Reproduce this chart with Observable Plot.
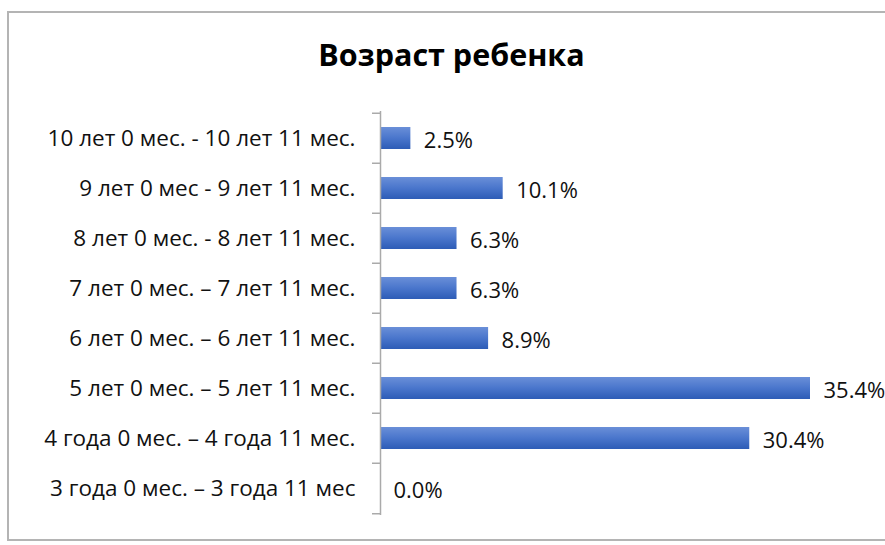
<!DOCTYPE html>
<html>
<head>
<meta charset="utf-8">
<script src="https://cdn.jsdelivr.net/npm/d3@7"></script>
<script src="https://cdn.jsdelivr.net/npm/@observablehq/plot@0.6"></script>
<style>
  html, body { margin: 0; padding: 0; background: #fff; }
  #wrap { position: relative; width: 885px; height: 545px; overflow: hidden; }
  #border { position: absolute; left: 7px; top: 11px; width: 900px; height: 530px; border: 2px solid #b4b4b4; box-sizing: border-box; }
  #chart { position: absolute; left: 0; top: 0; }
</style>
</head>
<body>
<div id="wrap"><div id="border"></div><div id="chart"></div></div>
<script>
const title = "Возраст ребенка";
const categories = [
  "10 лет 0 мес. - 10 лет 11 мес.",
  "9 лет 0 мес - 9 лет 11 мес.",
  "8 лет 0 мес. - 8 лет 11 мес.",
  "7 лет 0 мес. – 7 лет 11 мес.",
  "6 лет 0 мес. – 6 лет 11 мес.",
  "5 лет 0 мес. – 5 лет 11 мес.",
  "4 года 0 мес. – 4 года 11 мес.",
  "3 года 0 мес. – 3 года 11 мес"
];
const values = [2.5, 10.1, 6.3, 6.3, 8.9, 35.4, 30.4, 0.0];

const data = categories.map((c, i) => ({category: c, value: values[i]}));

const W = 885, H = 545, mL = 380, mR = 75, mT = 111, mB = 30;
const step = (H - mT - mB) / categories.length;
const xMax = d3.max(values);
const pxPerUnit = (W - mL - mR) / xMax;
const font = "'Open Sans', Lato, sans-serif";
const titleCenter = 451;

const plot = Plot.plot({
  width: W,
  height: H,
  marginLeft: mL,
  marginRight: mR,
  marginTop: mT,
  marginBottom: mB,
  style: {fontFamily: font, background: "transparent", overflow: "visible"},
  x: {domain: [0, xMax], axis: null},
  y: {domain: categories, paddingInner: 0.564, paddingOuter: 0.282, label: null},
  marks: [
    Plot.barX(data, {x: "value", y: "category", fill: "url(#barGrad)"}),
    Plot.ruleX([0], {stroke: "#aaa", strokeWidth: 1.5}),
    Plot.ruleY(categories, {y: d => d, x1: -8 / pxPerUnit, x2: 0, dy: -step / 2, stroke: "#aaa", strokeWidth: 1.5}),
    Plot.ruleY(categories.slice(-1), {y: d => d, x1: -8 / pxPerUnit, x2: 0, dy: step / 2, stroke: "#aaa", strokeWidth: 1.5}),
    Plot.axisY({tickSize: 0, tickPadding: 25, fontSize: 22.5, fill: "#111", label: null}),
    Plot.text(data, {x: "value", y: "category", text: d => d.value.toFixed(1) + "%", dx: 13, dy: 2, textAnchor: "start", fontSize: 22, fill: "#111"}),
    Plot.text([title], {frameAnchor: "top", dx: titleCenter - (mL + (W - mL - mR) / 2), dy: -67, text: d => d, fontSize: 30.5, fontWeight: "bold", fill: "#000"})
  ]
});

const ns = "http://www.w3.org/2000/svg";
const defs = document.createElementNS(ns, "defs");
defs.innerHTML = `<linearGradient id="barGrad" x1="0" y1="0" x2="0" y2="1">
  <stop offset="0" stop-color="#6a8fd8"/>
  <stop offset="0.5" stop-color="#4a76cc"/>
  <stop offset="1" stop-color="#2d5cb6"/>
</linearGradient>`;
plot.insertBefore(defs, plot.firstChild);

document.getElementById("chart").appendChild(plot);
</script>
</body>
</html>
